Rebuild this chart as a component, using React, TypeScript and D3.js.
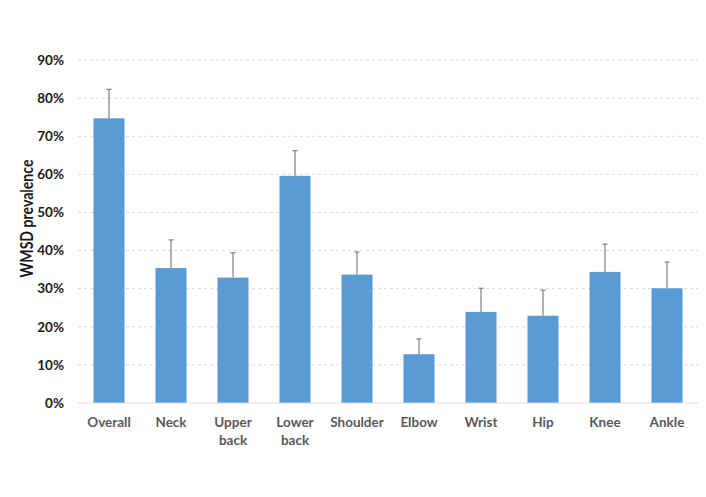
import React from "react";
import * as d3 from "d3";

const categories = ["Overall", "Neck", "Upper back", "Lower back", "Shoulder", "Elbow", "Wrist", "Hip", "Knee", "Ankle"];
const prevalence = [74.7, 35.4, 32.9, 59.6, 33.7, 12.8, 23.9, 22.9, 34.4, 30.1];
const upperError = [82.3, 42.8, 39.4, 66.2, 39.6, 16.8, 30.1, 29.6, 41.7, 37.0];
const yTicks = [0, 10, 20, 30, 40, 50, 60, 70, 80, 90];

const W = 706;
const H = 497;
const M = { left: 78, right: 8, top: 60, bottom: 94 };

export default function App() {
  const x = d3
    .scaleBand<string>()
    .domain(categories)
    .range([M.left, W - M.right])
    .paddingInner(0.5)
    .paddingOuter(0.25);
  const y = d3.scaleLinear().domain([0, 90]).range([H - M.bottom, M.top]);
  const font = "Lato, 'Open Sans', 'Liberation Sans', Arial, sans-serif";
  const bw = x.bandwidth();

  return (
    <svg
      width={W}
      height={H}
      style={{ position: "absolute", left: 0, top: 0, background: "#fff" }}
      fontFamily={font}
    >
      {yTicks.map((t) =>
        t === 0 ? null : (
          <line
            key={"g" + t}
            x1={M.left}
            x2={W - M.right}
            y1={y(t)}
            y2={y(t)}
            stroke="#d9d9d9"
            strokeWidth={1}
            strokeDasharray="3,3"
          />
        )
      )}
      {yTicks.map((t) => (
        <text
          key={"t" + t}
          x={64}
          y={y(t)}
          dy="0.35em"
          textAnchor="end"
          fontSize={13.5}
          fontWeight="bold"
          fill="#1a1a1a"
        >
          {t}%
        </text>
      ))}
      {categories.map((c, i) => (
        <g key={c}>
          <rect
            x={x(c)!}
            y={y(prevalence[i])}
            width={bw}
            height={y(0) - y(prevalence[i])}
            fill="#5b9bd5"
          />
          <line
            x1={x(c)! + bw / 2}
            x2={x(c)! + bw / 2}
            y1={y(prevalence[i])}
            y2={y(upperError[i])}
            stroke="#7f7f7f"
            strokeWidth={1.2}
          />
          <line
            x1={x(c)! + bw / 2 - 2.5}
            x2={x(c)! + bw / 2 + 2.5}
            y1={y(upperError[i])}
            y2={y(upperError[i])}
            stroke="#7f7f7f"
            strokeWidth={1.2}
          />
        </g>
      ))}
      <line
        x1={M.left}
        x2={W - M.right}
        y1={y(0)}
        y2={y(0)}
        stroke="#d9d9d9"
        strokeWidth={1}
      />
      {categories.map((c) => {
        const words = c.split(" ");
        return (
          <text
            key={"x" + c}
            x={x(c)! + bw / 2}
            y={427}
            textAnchor="middle"
            fontSize={13.5}
            fontWeight="bold"
            fill="#595959"
          >
            {words.map((w, j) => (
              <tspan key={j} x={x(c)! + bw / 2} dy={j === 0 ? 0 : 18}>
                {w}
              </tspan>
            ))}
          </text>
        );
      })}
      <text
        transform={`translate(27, ${(y(0) + y(90)) / 2 - 13}) rotate(-90)`}
        dy="0.35em"
        textAnchor="middle"
        fontSize={16.5}
        fontWeight="bold"
        fill="#1a1a1a"
        textLength={118}
        lengthAdjust="spacingAndGlyphs"
      >
        WMSD prevalence
      </text>
    </svg>
  );
}
